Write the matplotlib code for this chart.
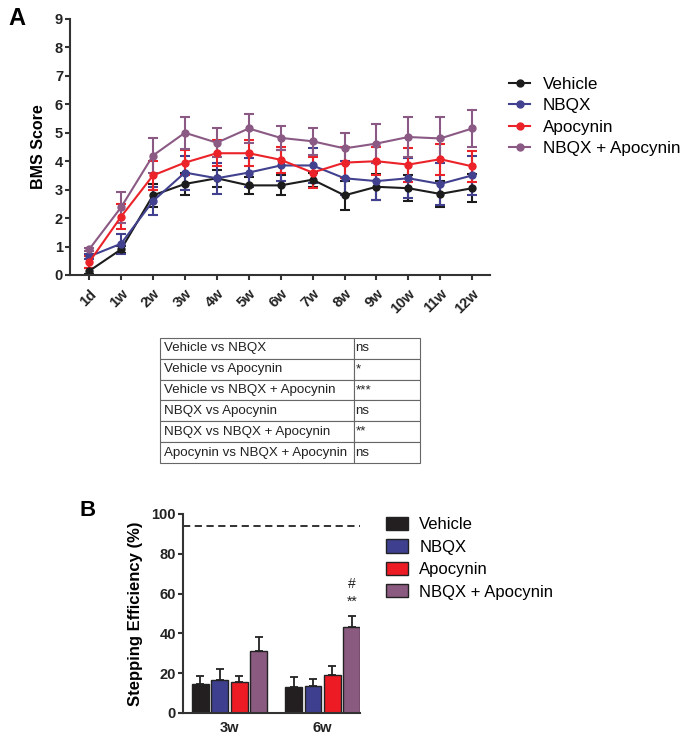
import numpy as np
import matplotlib
matplotlib.use("Agg")
import matplotlib.pyplot as plt
from matplotlib.patches import Patch
from matplotlib.lines import Line2D

plt.rcParams['font.family'] = ['Liberation Sans', 'DejaVu Sans']

# panel A: BMS score over time
timepoints = ["1d", "1w", "2w", "3w", "4w", "5w", "6w", "7w", "8w", "9w", "10w", "11w", "12w"]
groups = ["Vehicle", "NBQX", "Apocynin", "NBQX + Apocynin"]

bms_vehicle = [0.14, 0.9, 2.8, 3.2, 3.4, 3.15, 3.15, 3.35, 2.8, 3.1, 3.05, 2.85, 3.05]
bms_nbqx = [0.65, 1.1, 2.6, 3.6, 3.4, 3.6, 3.85, 3.85, 3.4, 3.3, 3.4, 3.2, 3.5]
bms_apocynin = [0.45, 2.05, 3.5, 3.95, 4.28, 4.28, 4.05, 3.6, 3.95, 4.0, 3.88, 4.07, 3.82]
bms_combo = [0.9, 2.38, 4.2, 5.0, 4.65, 5.15, 4.82, 4.7, 4.45, 4.62, 4.85, 4.8, 5.15]

sem_vehicle = [0.1, 0.12, 0.4, 0.4, 0.3, 0.3, 0.35, 0.25, 0.5, 0.45, 0.45, 0.45, 0.5]
sem_nbqx = [0.1, 0.35, 0.5, 0.6, 0.55, 0.5, 0.55, 0.6, 0.6, 0.65, 0.7, 0.75, 0.7]
sem_apocynin = [0.2, 0.45, 0.5, 0.45, 0.45, 0.45, 0.45, 0.55, 0.55, 0.5, 0.6, 0.55, 0.55]
sem_combo = [0.05, 0.55, 0.62, 0.57, 0.5, 0.5, 0.42, 0.48, 0.55, 0.7, 0.7, 0.75, 0.65]

# statistics table
comparisons = ["Vehicle vs NBQX", "Vehicle vs Apocynin", "Vehicle vs NBQX + Apocynin",
               "NBQX vs Apocynin", "NBQX vs NBQX + Apocynin", "Apocynin vs NBQX + Apocynin"]
significance = ["ns", "*", "***", "ns", "**", "ns"]

# panel B: stepping efficiency
step_weeks = ["3w", "6w"]
step_vehicle = [14.7, 13.0]
step_nbqx = [16.4, 13.5]
step_apocynin = [15.4, 19.2]
step_combo = [31.3, 43.0]
step_err_vehicle = [4.0, 4.9]
step_err_nbqx = [5.6, 3.7]
step_err_apocynin = [3.3, 4.2]
step_err_combo = [6.7, 5.5]
normal_level = 94
combo_marks = ["#", "**"]
combo_mark_y = [65, 56]

line_colors = ["#1c1c1c", "#41418f", "#ec2229", "#8b5a84"]
bar_colors = ["#231f20", "#3e3f8f", "#ed1c24", "#8b5a80"]
spine_color = "#333333"

fig = plt.figure(figsize=(6.83, 7.41), dpi=100)

# ---- panel A ----
ax1 = fig.add_axes([0.1025, 0.6289, 0.615, 0.3455])
x = np.arange(len(timepoints))
bms = [bms_vehicle, bms_nbqx, bms_apocynin, bms_combo]
sems = [sem_vehicle, sem_nbqx, sem_apocynin, sem_combo]
for vals, errs, col, name in zip(bms, sems, line_colors, groups):
    ax1.errorbar(x, vals, yerr=errs, color=col, ecolor=col, marker="o", markersize=5,
                 linewidth=1.5, elinewidth=1.5, capsize=3.6, capthick=1.5, label=name)
ax1.set_xlim(-0.6, 12.56)
ax1.set_ylim(0, 9)
ax1.set_yticks(range(10))
ax1.set_xticks(x)
ax1.set_xticklabels(timepoints, rotation=45, ha="right", rotation_mode="anchor")
ax1.set_ylabel("BMS Score", fontsize=11.5, fontweight="bold", labelpad=6)
for s in ["top", "right"]:
    ax1.spines[s].set_visible(False)
for s in ["left", "bottom"]:
    ax1.spines[s].set_color(spine_color)
    ax1.spines[s].set_linewidth(1.5)
ax1.tick_params(colors=spine_color, width=1.5, length=3.5, labelsize=10.5, labelcolor="#222222")
ax1.tick_params(axis="y", pad=1.5)
ax1.tick_params(axis="x", pad=5)
for lab in ax1.get_xticklabels() + ax1.get_yticklabels():
    lab.set_fontweight("bold")

handles = [Line2D([0], [0], color=c, marker="o", markersize=5, linewidth=1.5) for c in line_colors]
ax1.legend(handles, groups, loc="upper left", bbox_to_anchor=(1.045, 0.775), frameon=False,
           fontsize=12.3, borderaxespad=0, borderpad=0, handlelength=1.25,
           handletextpad=0.75, labelspacing=0.38)

fig.text(0.012, 0.99, "A", fontsize=17, fontweight="bold", va="top")

# ---- table ----
axt = fig.add_axes([0.2343, 0.3752, 0.3807, 0.1687])
axt.axis("off")
tbl = axt.table(cellText=[[c, s] for c, s in zip(comparisons, significance)],
                colWidths=[0.746, 0.254], cellLoc="left", bbox=[0, 0, 1, 1])
tbl.auto_set_font_size(False)
tbl.set_fontsize(9.6)
for cell in tbl.get_celld().values():
    cell.set_edgecolor("#666666")
    cell.set_linewidth(0.8)
    cell.PAD = 0.02
    cell.get_text().set_color("#222222")

# ---- panel B ----
ax2 = fig.add_axes([0.2679, 0.0378, 0.2592, 0.2686])
xb = np.arange(len(step_weeks))
step_vals = [step_vehicle, step_nbqx, step_apocynin, step_combo]
step_errs = [step_err_vehicle, step_err_nbqx, step_err_apocynin, step_err_combo]
bar_w = 0.18
spacing = 0.2085
for i, (vals, errs, col) in enumerate(zip(step_vals, step_errs, bar_colors)):
    pos = xb + (i - 1.5) * spacing
    ax2.bar(pos, vals, width=bar_w, color=col, edgecolor="#222222", linewidth=1.0)
    ax2.errorbar(pos, vals, yerr=[np.zeros(len(vals)), errs], fmt="none", ecolor="#222222",
                 elinewidth=1.3, capsize=3, capthick=1.3)
ax2.axhline(normal_level, color="#222222", linestyle=(0, (4, 2.5)), linewidth=1.3)
combo_x = xb[1] + 1.5 * spacing
for mark, my in zip(combo_marks, combo_mark_y):
    ax2.text(combo_x, my, mark, ha="center", va="center", fontsize=10, color="#222222")
ax2.set_xlim(-0.5, 1.4)
ax2.set_ylim(0, 100)
ax2.set_yticks(range(0, 101, 20))
ax2.set_xticks(xb)
ax2.set_xticklabels(step_weeks)
ax2.set_ylabel("Stepping Efficiency (%)", fontsize=12, fontweight="bold", labelpad=6)
for s in ["top", "right"]:
    ax2.spines[s].set_visible(False)
for s in ["left", "bottom"]:
    ax2.spines[s].set_color(spine_color)
    ax2.spines[s].set_linewidth(1.5)
ax2.tick_params(colors=spine_color, width=1.5, length=3.5, labelsize=10.5, labelcolor="#222222")
ax2.tick_params(axis="y", pad=1.5)
ax2.tick_params(axis="x", length=0, pad=6)
for lab in ax2.get_xticklabels() + ax2.get_yticklabels():
    lab.set_fontweight("bold")

patches = [Patch(facecolor=c, edgecolor="#222222", linewidth=1.0) for c in bar_colors]
ax2.legend(patches, groups, loc="upper left", bbox_to_anchor=(1.147, 0.985), frameon=False,
           fontsize=12, borderaxespad=0, borderpad=0, handlelength=1.3, handleheight=0.85,
           handletextpad=0.7, labelspacing=0.42)

fig.text(0.117, 0.325, "B", fontsize=16, fontweight="bold", va="top")

fig.savefig("out.png", dpi=100)
